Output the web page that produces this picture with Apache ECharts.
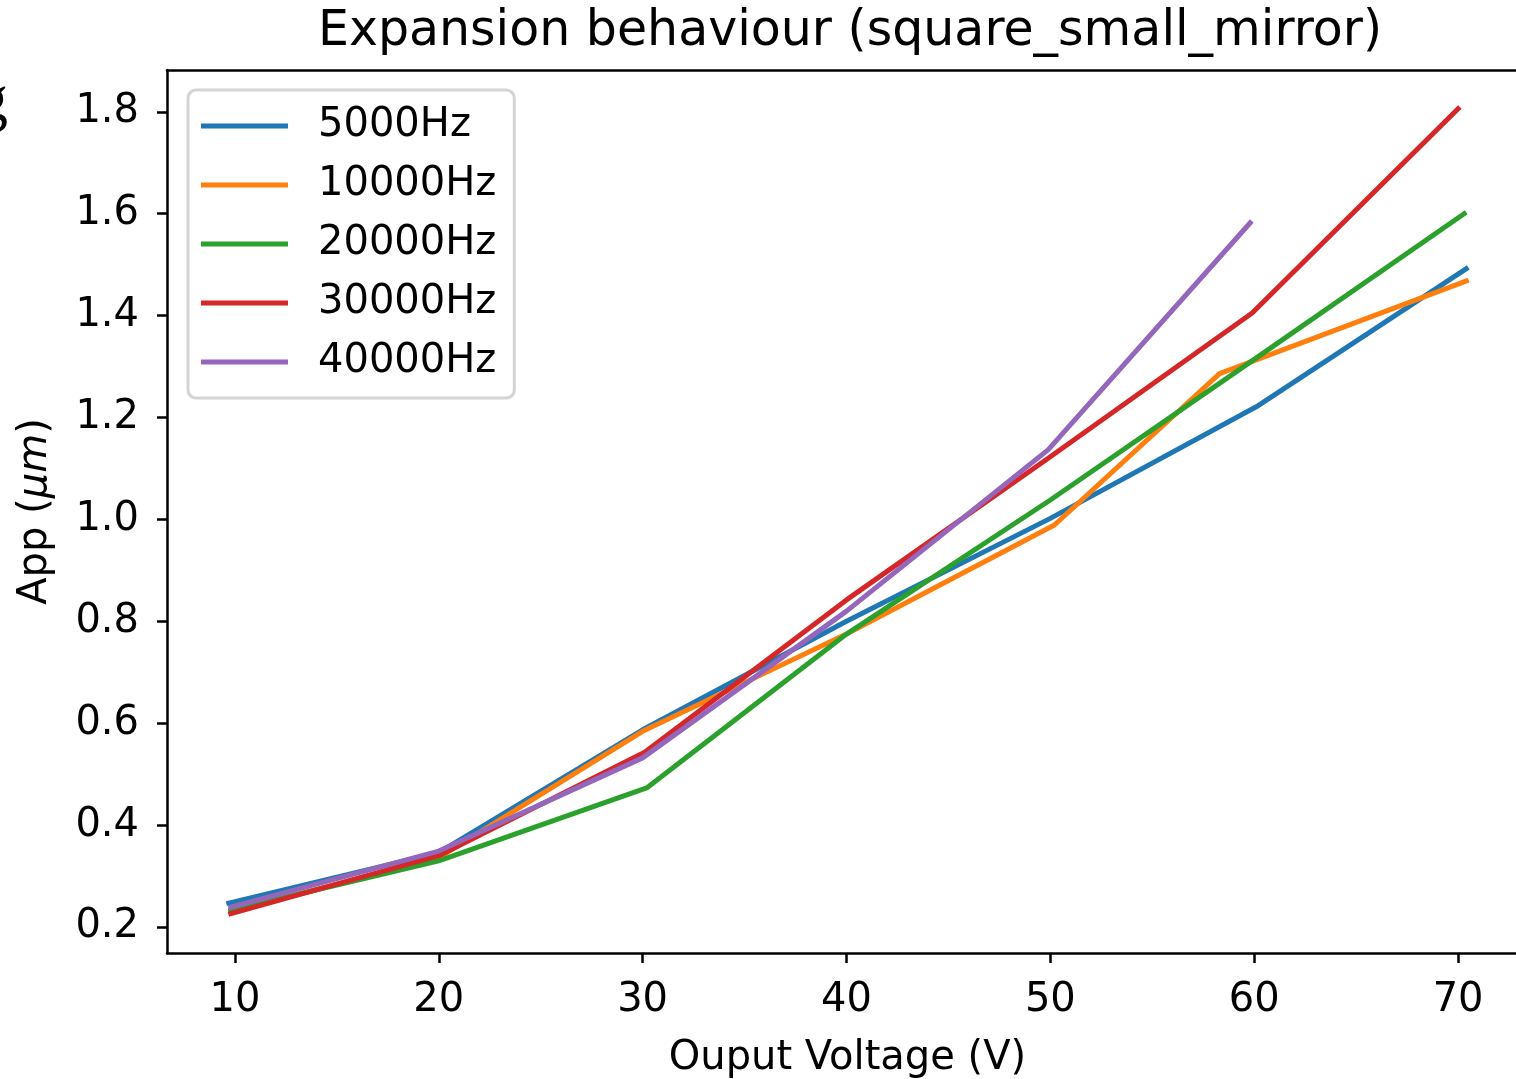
<!DOCTYPE html>
<html>
<head>
<meta charset="utf-8">
<script src="https://cdn.jsdelivr.net/npm/echarts@6/dist/echarts.min.js"></script>
<style>
html,body{margin:0;padding:0;background:#fff;overflow:hidden;}
#chart{width:1516px;height:1079px;}
</style>
</head>
<body>
<div id="chart"></div>
<script>
// ---- data ----
const seriesNames = ['5000Hz', '10000Hz', '20000Hz', '30000Hz', '40000Hz'];
const volts5000  = [9.7, 20, 30, 40, 50, 60.1, 70.4];
const app5000    = [0.247, 0.346, 0.587, 0.800, 1.002, 1.221, 1.492];
const volts10000 = [9.8, 20, 30, 40, 50.2, 58.3, 70.4];
const app10000   = [0.230, 0.336, 0.584, 0.775, 0.989, 1.286, 1.468];
const volts20000 = [9.8, 20, 30.2, 40, 50, 60, 70.3];
const app20000   = [0.233, 0.330, 0.473, 0.775, 1.038, 1.314, 1.600];
const volts30000 = [9.8, 20, 30.1, 40, 50, 59.9, 70];
const app30000   = [0.226, 0.340, 0.543, 0.842, 1.123, 1.405, 1.806];
const volts40000 = [9.8, 20, 30, 40, 49.9, 59.8];
const app40000   = [0.239, 0.349, 0.532, 0.820, 1.137, 1.582];
const xTicks = [10, 20, 30, 40, 50, 60, 70];
const yTicks = [0.2, 0.4, 0.6, 0.8, 1.0, 1.2, 1.4, 1.6, 1.8];
const titleText = 'Expansion behaviour (square_small_mirror)';
const xName = 'Ouput Voltage (V)';

const colors = ['#1f77b4', '#ff7f0e', '#2ca02c', '#d62728', '#9467bd'];
const xs = [volts5000, volts10000, volts20000, volts30000, volts40000];
const ys = [app5000, app10000, app20000, app30000, app40000];
const FONT = 'DejaVu Sans';
const spine = {color: '#000', width: 2.5};

const chart = echarts.init(document.getElementById('chart'), null, {renderer: 'canvas'});
chart.setOption({
  animation: false,
  backgroundColor: '#ffffff',
  textStyle: {fontFamily: FONT},
  title: {
    text: titleText,
    left: 845, top: 3, textAlign: 'center',
    textStyle: {fontFamily: FONT, fontSize: 49, fontWeight: 'normal', color: '#000'}
  },
  graphic: [{
    type: 'text', left: -24, top: 70,
    style: {text: 'g', font: '64px "Liberation Serif"', fill: '#000'}
  }],
  grid: {left: 167, top: 70, width: 1361, height: 883, show: false,
    containLabel: false, outerBoundsMode: 'none'},
  legend: {
    orient: 'vertical', left: 188, top: 90,
    padding: [16, 18, 16, 13],
    itemWidth: 87, itemHeight: 5, itemGap: 19,
    icon: 'rect',
    backgroundColor: 'rgba(255,255,255,0.8)',
    borderColor: '#d4d4d4', borderWidth: 3, borderRadius: 8,
    textStyle: {fontFamily: FONT, fontSize: 40, color: '#000', lineHeight: 40, padding: [0, 0, 0, 25]},
    data: seriesNames
  },
  xAxis: [{
    type: 'value', min: 6.67, max: 73.43, position: 'bottom',
    name: xName, nameLocation: 'middle', nameGap: 86,
    nameTextStyle: {fontFamily: FONT, fontSize: 40, color: '#000'},
    axisLine: {show: true, onZero: false, lineStyle: spine},
    axisTick: {show: true, inside: false, length: 10, customValues: xTicks, lineStyle: spine},
    axisLabel: {customValues: xTicks, margin: 28, fontFamily: FONT, fontSize: 40, color: '#000'},
    splitLine: {show: false}
  }, {
    type: 'value', min: 6.67, max: 73.43, position: 'top',
    axisLine: {show: true, onZero: false, lineStyle: spine},
    axisTick: {show: false}, axisLabel: {show: false}, splitLine: {show: false}
  }],
  yAxis: {
    type: 'value', min: 0.149, max: 1.882,
    name: 'App ({i|μm})', nameLocation: 'middle', nameRotate: 90, nameGap: 111,
    nameTextStyle: {fontFamily: FONT, fontSize: 40, color: '#000',
      rich: {i: {fontFamily: FONT, fontSize: 40, fontStyle: 'italic', color: '#000'}}},
    axisLine: {show: true, onZero: false, lineStyle: spine},
    axisTick: {show: true, inside: false, length: 10, customValues: yTicks, lineStyle: spine},
    axisLabel: {customValues: yTicks, margin: 28, fontFamily: FONT, fontSize: 40, color: '#000',
      formatter: v => v.toFixed(1)},
    splitLine: {show: false}
  },
  series: seriesNames.map((n, i) => ({
    name: n, type: 'line', showSymbol: false, symbol: 'none',
    xAxisIndex: 0,
    data: xs[i].map((x, j) => [x, ys[i][j]]),
    lineStyle: {color: colors[i], width: 5, cap: 'square'},
    itemStyle: {color: colors[i]},
    z: 2 + i
  }))
});
</script>
</body>
</html>
